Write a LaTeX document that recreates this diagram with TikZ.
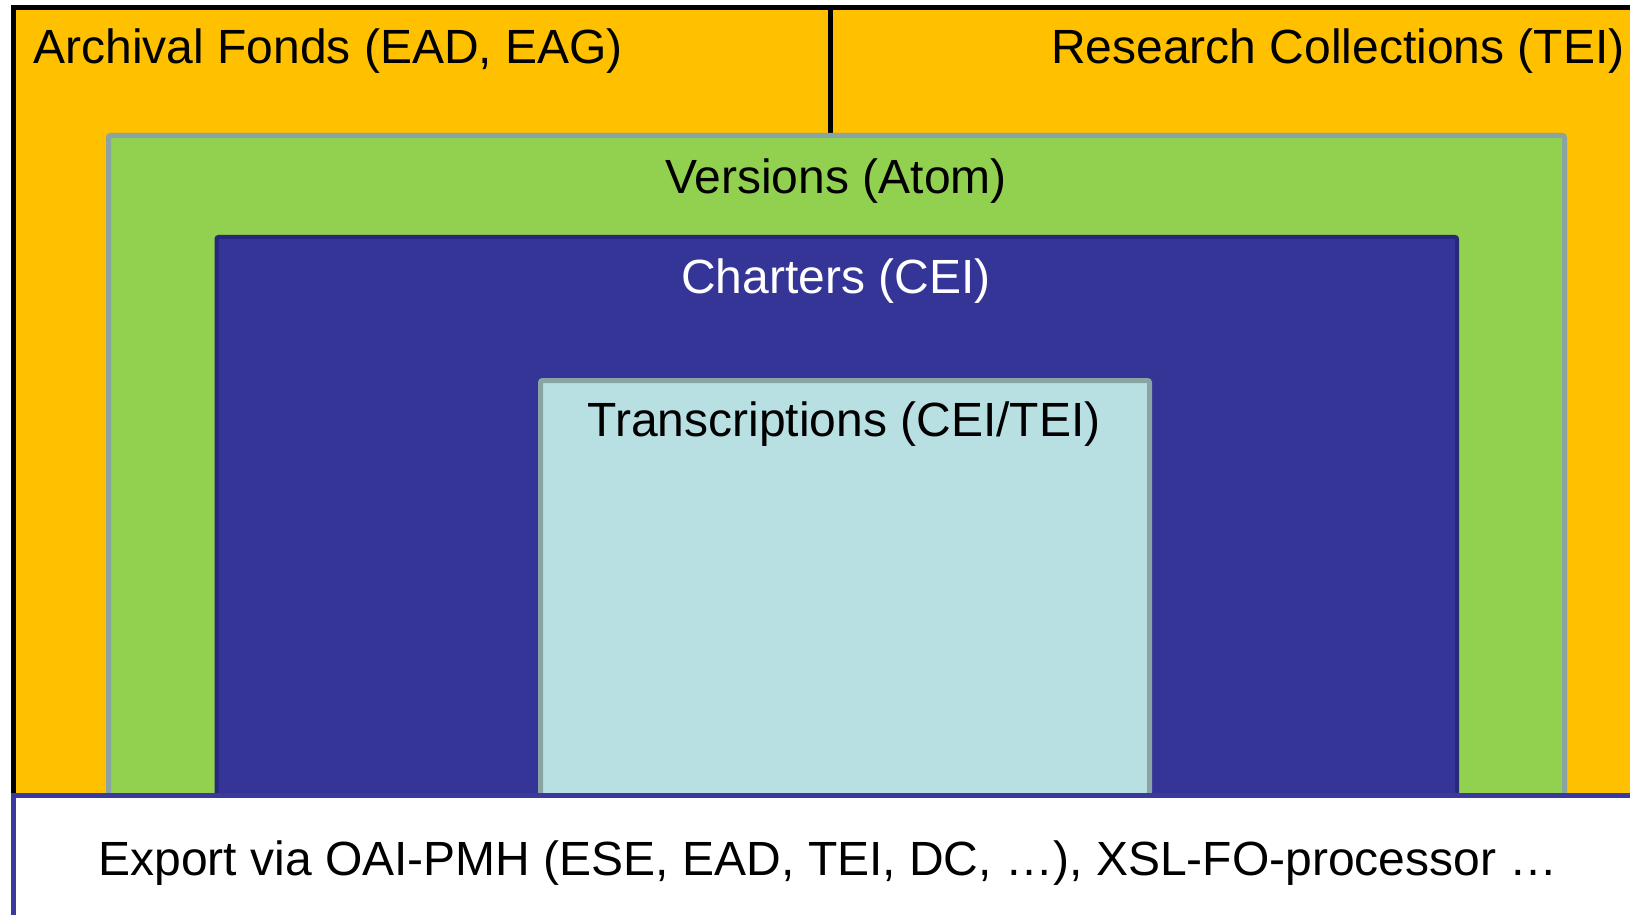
\documentclass[tikz,border=0pt]{standalone}
\usepackage{fontspec}
\setmainfont{Liberation Sans}
\definecolor{orangefill}{HTML}{FFC000}
\definecolor{greenfill}{HTML}{92D050}
\definecolor{bluefill}{HTML}{353598}
\definecolor{blueedge}{HTML}{28287A}
\definecolor{lightfill}{HTML}{B8E0E3}
\definecolor{grayedge}{HTML}{8AA3A3}
\definecolor{exportedge}{HTML}{3A3A9E}
\tikzset{
  lbl/.style={inner sep=0pt, font=\fontsize{24}{28}\selectfont},
  boxline/.style={line width=2.5pt},
}
\begin{document}
\begin{tikzpicture}[x=0.5pt,y=-0.5pt]
\useasboundingbox (0,0) rectangle (1630,915);
\clip (0,0) rectangle (1630,915);
% outer orange area
\fill[orangefill] (13,7.5) rectangle (1660,940);
\draw[boxline, black] (13,940) -- (13,7.5) -- (1660,7.5);
\draw[boxline, black] (830.5,7.5) -- (830.5,135.5);
% versions
\draw[boxline, draw=grayedge, fill=greenfill, rounded corners=1pt] (108.5,135.5) rectangle (1564.5,830);
% charters
\draw[line width=2pt, draw=blueedge, fill=bluefill, rounded corners=1pt] (216.5,237) rectangle (1457,830);
% transcriptions
\draw[boxline, draw=grayedge, fill=lightfill, rounded corners=1pt] (540.5,380.5) rectangle (1149.5,830);
% export
\draw[boxline, draw=exportedge, fill=white] (13,940) -- (13,795.5) -- (1660,795.5) -- (1660,940) -- cycle;
% labels
\node[lbl, anchor=base west] (archival) at (33,64) {Archival Fonds (EAD, EAG)};
\node[lbl, anchor=base east] (research) at (1625,64) {Research Collections (TEI)};
\node[lbl, anchor=base] (versions) at (836,194) {Versions (Atom)};
\node[lbl, anchor=base, text=white] (charters) at (836,293) {Charters (CEI)};
\node[lbl, anchor=base] (transcriptions) at (844,436) {Transcriptions (CEI/TEI)};
\node[lbl, anchor=base] (export) at (828,875) {Export via OAI-PMH (ESE, EAD, TEI, DC, …), XSL-FO-processor …};
\end{tikzpicture}
\end{document}
